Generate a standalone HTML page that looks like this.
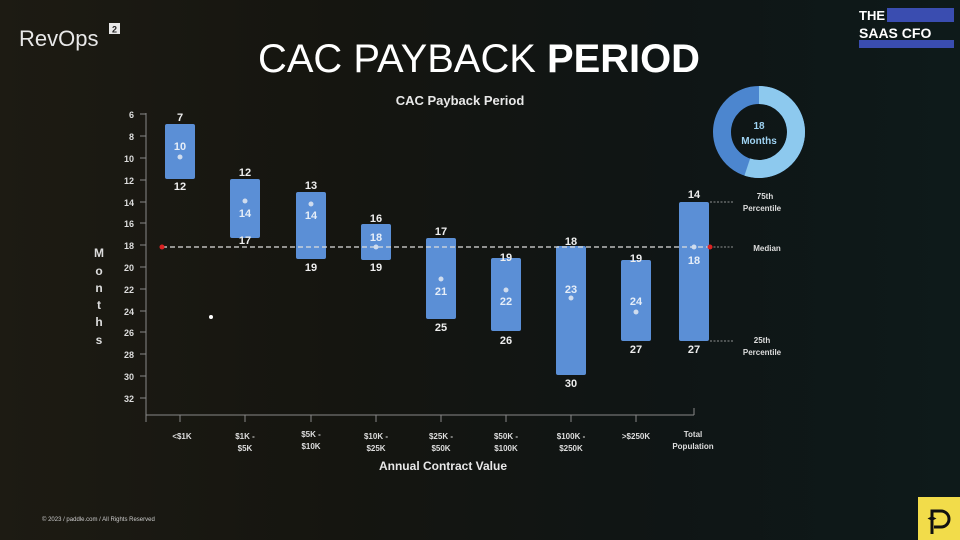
<!DOCTYPE html>
<html><head><meta charset="utf-8"><style>
html,body{margin:0;padding:0}
body{width:960px;height:540px;overflow:hidden;background:linear-gradient(90deg,#1d1b13 0%,#151510 35%,#0f1515 70%,#0e1a1a 100%);font-family:"Liberation Sans",sans-serif}
svg{position:absolute;left:0;top:0}
</style></head><body>
<svg width="960" height="540" viewBox="0 0 960 540" font-family="Liberation Sans, sans-serif">
<text x="19" y="46" fill="#e8e8e8" font-size="22">RevOps</text>
<rect x="109" y="23" width="11" height="11" fill="#e8e8e8"/><text x="114.5" y="32.5" font-size="9" font-weight="bold" text-anchor="middle" fill="#222">2</text>
<text x="859" y="20" fill="#fff" font-size="13" font-weight="bold">THE</text>
<rect x="887" y="8" width="67" height="14" fill="#3a4db0"/>
<text x="859" y="38" fill="#fff" font-size="14" font-weight="bold">SAAS CFO</text>
<rect x="859" y="40" width="95" height="8" fill="#3a4db0"/>
<text x="479" y="72" fill="#fff" font-size="40" text-anchor="middle" textLength="442" lengthAdjust="spacingAndGlyphs">CAC PAYBACK <tspan font-weight="bold">PERIOD</tspan></text>
<text x="460" y="105" fill="#e8e8e8" font-size="13" font-weight="bold" text-anchor="middle">CAC Payback Period</text>
<!-- donut -->
<circle cx="759" cy="132" r="37" fill="none" stroke="#4c86cf" stroke-width="18"/>
<circle cx="759" cy="132" r="37" fill="none" stroke="#8dc9ee" stroke-width="18" stroke-dasharray="128 1000" transform="rotate(-90 759 132)"/>
<text x="759" y="129" fill="#9fd3f2" font-size="10" font-weight="bold" text-anchor="middle">18</text>
<text x="759" y="144" fill="#9fd3f2" font-size="10" font-weight="bold" text-anchor="middle">Months</text>
<!-- axes -->
<g stroke="#888" stroke-width="1">
<line x1="146" y1="113" x2="146" y2="422"/>
<line x1="146" y1="415" x2="694" y2="415"/>
<line x1="140" y1="114" x2="146" y2="114"/><line x1="140" y1="136" x2="146" y2="136"/><line x1="140" y1="158" x2="146" y2="158"/><line x1="140" y1="180" x2="146" y2="180"/><line x1="140" y1="202" x2="146" y2="202"/><line x1="140" y1="223" x2="146" y2="223"/><line x1="140" y1="245" x2="146" y2="245"/><line x1="140" y1="267" x2="146" y2="267"/><line x1="140" y1="289" x2="146" y2="289"/><line x1="140" y1="311" x2="146" y2="311"/><line x1="140" y1="332" x2="146" y2="332"/><line x1="140" y1="354" x2="146" y2="354"/><line x1="140" y1="376" x2="146" y2="376"/><line x1="140" y1="398" x2="146" y2="398"/>
<line x1="180" y1="415" x2="180" y2="422"/><line x1="245" y1="415" x2="245" y2="422"/><line x1="311" y1="415" x2="311" y2="422"/><line x1="376" y1="415" x2="376" y2="422"/><line x1="441" y1="415" x2="441" y2="422"/><line x1="506" y1="415" x2="506" y2="422"/><line x1="571" y1="415" x2="571" y2="422"/><line x1="636" y1="415" x2="636" y2="422"/><line x1="694" y1="408" x2="694" y2="415"/>
</g>
<g fill="#ddd" font-size="9" font-weight="bold" text-anchor="end">
<text x="134" y="118">6</text><text x="134" y="140">8</text><text x="134" y="162">10</text><text x="134" y="184">12</text><text x="134" y="206">14</text><text x="134" y="227">16</text><text x="134" y="249">18</text><text x="134" y="271">20</text><text x="134" y="293">22</text><text x="134" y="315">24</text><text x="134" y="336">26</text><text x="134" y="358">28</text><text x="134" y="380">30</text><text x="134" y="402">32</text>
</g>
<g fill="#ddd" font-size="12" font-weight="bold" text-anchor="middle">
<text x="99" y="257">M</text><text x="99" y="275">o</text><text x="99" y="292">n</text><text x="99" y="309">t</text><text x="99" y="326">h</text><text x="99" y="344">s</text>
</g>
<g fill="#ddd" font-size="8" font-weight="bold" text-anchor="middle">
<text x="182" y="439">&lt;$1K</text>
<text x="245" y="439">$1K -</text><text x="245" y="451">$5K</text>
<text x="311" y="437">$5K -</text><text x="311" y="449">$10K</text>
<text x="376" y="439">$10K -</text><text x="376" y="451">$25K</text>
<text x="441" y="439">$25K -</text><text x="441" y="451">$50K</text>
<text x="506" y="439">$50K -</text><text x="506" y="451">$100K</text>
<text x="571" y="439">$100K -</text><text x="571" y="451">$250K</text>
<text x="636" y="439">&gt;$250K</text>
<text x="693" y="437">Total</text><text x="693" y="449">Population</text>
</g>
<text x="443" y="470" fill="#e8e8e8" font-size="12" font-weight="bold" text-anchor="middle">Annual Contract Value</text>
<!-- bars -->
<g fill="#5b8fd6">
<rect x="165" y="124" width="30" height="55" rx="2"/>
<rect x="230" y="179" width="30" height="59" rx="2"/>
<rect x="296" y="192" width="30" height="67" rx="2"/>
<rect x="361" y="224" width="30" height="36" rx="2"/>
<rect x="426" y="238" width="30" height="81" rx="2"/>
<rect x="491" y="258" width="30" height="73" rx="2"/>
<rect x="556" y="246" width="30" height="129" rx="2"/>
<rect x="621" y="260" width="30" height="81" rx="2"/>
<rect x="679" y="202" width="30" height="139" rx="2"/>
</g>
<line x1="162" y1="247" x2="710" y2="247" stroke="#ddd" stroke-width="1.3" stroke-dasharray="5 3"/>
<g stroke="#bbb" stroke-width="0.8" stroke-dasharray="2 1.5"><line x1="710" y1="202" x2="734" y2="202"/><line x1="710" y1="247" x2="734" y2="247"/><line x1="710" y1="341" x2="734" y2="341"/></g>
<circle cx="162" cy="247" r="2.5" fill="#d22"/><circle cx="710" cy="247" r="2.5" fill="#d22"/>
<circle cx="211" cy="317" r="2" fill="#fff"/>
<g fill="#cfdcee">
<circle cx="180" cy="157" r="2.5"/><circle cx="245" cy="201" r="2.5"/><circle cx="311" cy="204" r="2.5"/><circle cx="376" cy="247" r="2.5"/><circle cx="441" cy="279" r="2.5"/><circle cx="506" cy="290" r="2.5"/><circle cx="571" cy="298" r="2.5"/><circle cx="636" cy="312" r="2.5"/><circle cx="694" cy="247" r="2.5"/>
</g>
<g fill="#e6eef8" font-size="11" font-weight="bold" text-anchor="middle">
<text x="180" y="150">10</text><text x="245" y="217">14</text><text x="311" y="219">14</text><text x="376" y="241">18</text><text x="441" y="295">21</text><text x="506" y="305">22</text><text x="571" y="293">23</text><text x="636" y="305">24</text><text x="694" y="264">18</text>
</g>
<g fill="#eee" font-size="11" font-weight="bold" text-anchor="middle">
<text x="180" y="121">7</text><text x="180" y="190">12</text>
<text x="245" y="176">12</text><text x="245" y="244">17</text>
<text x="311" y="189">13</text><text x="311" y="271">19</text>
<text x="376" y="222">16</text><text x="376" y="271">19</text>
<text x="441" y="235">17</text><text x="441" y="331">25</text>
<text x="506" y="261">19</text><text x="506" y="344">26</text>
<text x="571" y="245">18</text><text x="571" y="387">30</text>
<text x="636" y="262">19</text><text x="636" y="353">27</text>
<text x="694" y="198">14</text><text x="694" y="353">27</text>
</g>
<g fill="#ddd" font-size="8" font-weight="bold" text-anchor="middle">
<text x="765" y="199">75th</text><text x="762" y="211">Percentile</text>
<text x="767" y="251">Median</text>
<text x="762" y="343">25th</text><text x="762" y="355">Percentile</text>
</g>
<text x="42" y="521" fill="#ccc" font-size="6">© 2023 / paddle.com / All Rights Reserved</text>
<rect x="918" y="497" width="42" height="43" fill="#f2dc4a"/>
<path d="M932 534 V511 H941 A8 8 0 0 1 941 527 H934" fill="none" stroke="#111" stroke-width="3"/>
<path d="M932 514 l1.5 3 3 1.5 -3 1.5 -1.5 3 -1.5 -3 -3 -1.5 3 -1.5z" fill="#111"/>
</svg>
</body></html>
